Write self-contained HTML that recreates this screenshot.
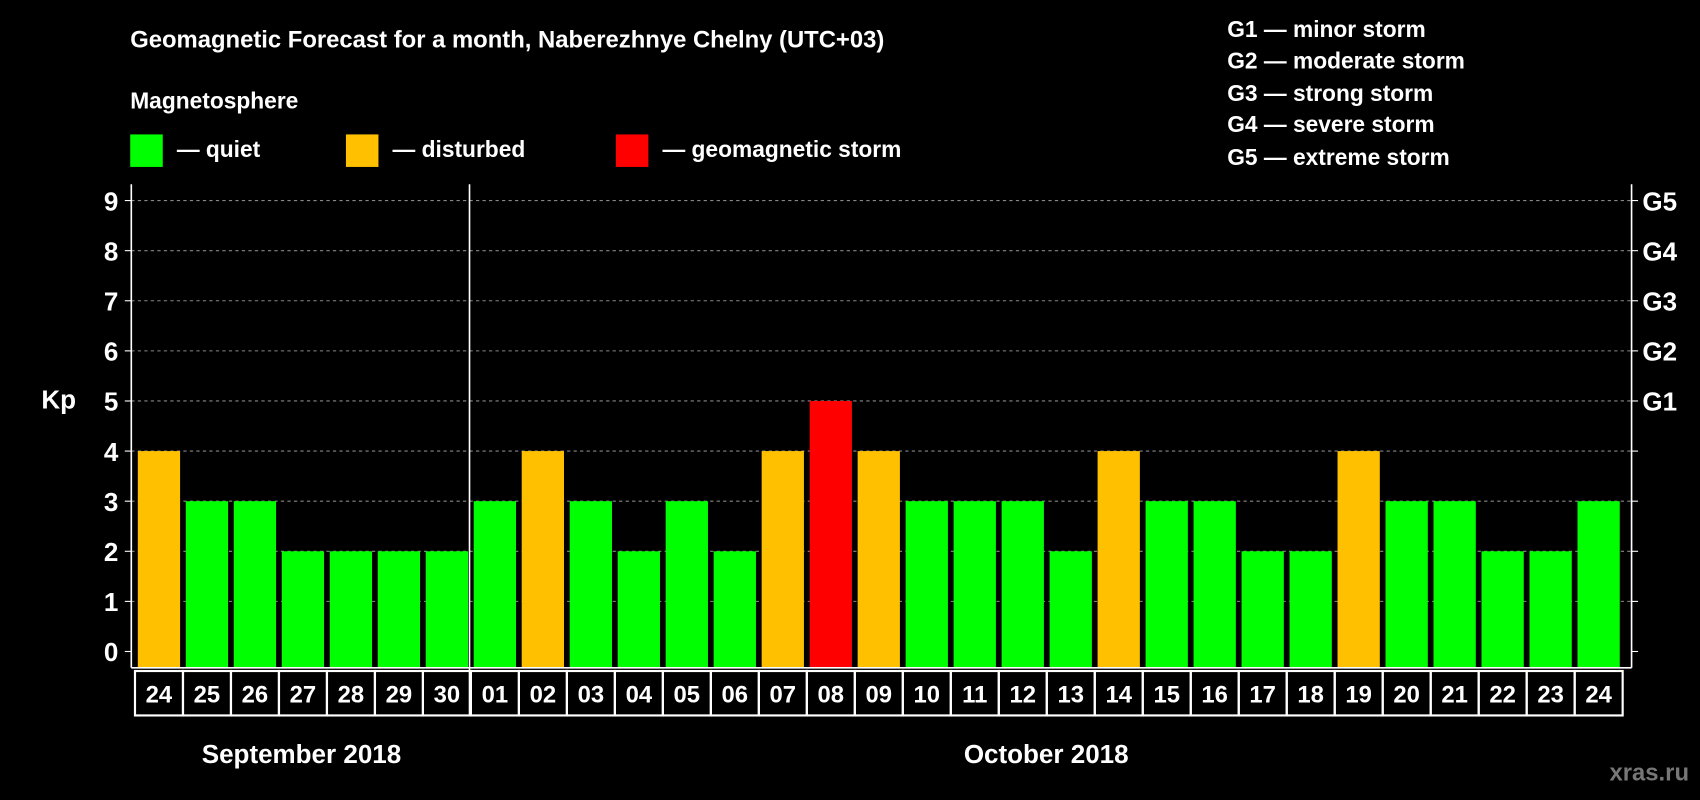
<!DOCTYPE html>
<html><head><meta charset="utf-8"><style>
html,body{margin:0;padding:0;background:#000;}
svg{display:block;font-family:"Liberation Sans",sans-serif;font-weight:bold;}
</style></head><body>
<svg id="chart" width="1700" height="800" viewBox="0 0 1568 738" xmlns="http://www.w3.org/2000/svg">
<rect width="1568" height="738" fill="#000"/>
<text x="120" y="44" fill="#fff" font-size="22">Geomagnetic Forecast for a month, Naberezhnye Chelny (UTC+03)</text>
<text x="120" y="100" fill="#fff" font-size="21">Magnetosphere</text>
<rect x="120" y="124" width="30" height="30" fill="#00ff00"/>
<text x="163" y="145" fill="#fff" font-size="21">— quiet</text>
<rect x="319" y="124" width="30" height="30" fill="#ffc000"/>
<text x="362" y="145" fill="#fff" font-size="21">— disturbed</text>
<rect x="568" y="124" width="30" height="30" fill="#ff0000"/>
<text x="611" y="145" fill="#fff" font-size="21">— geomagnetic storm</text>
<g fill="#fff" font-size="21">
<text x="1132" y="34">G1 — minor storm</text>
<text x="1132" y="63">G2 — moderate storm</text>
<text x="1132" y="93">G3 — strong storm</text>
<text x="1132" y="122">G4 — severe storm</text>
<text x="1132" y="152">G5 — extreme storm</text>
</g>
<text x="38" y="377" fill="#fff" font-size="24">Kp</text>
<g id="grid"></g><g id="bars"></g><g id="axes"></g><g id="labels"></g>
<text x="278" y="704" fill="#fff" font-size="24" text-anchor="middle">September 2018</text>
<text x="965" y="704" fill="#fff" font-size="24" text-anchor="middle">October 2018</text>
<text x="1558" y="720" fill="#777" font-size="22" text-anchor="end">xras.ru</text>
</svg>
<script>
const days = ["24","25","26","27","28","29","30","01","02","03","04","05","06","07","08","09","10","11","12","13","14","15","16","17","18","19","20","21","22","23","24"];
const kpValues = [4,3,3,2,2,2,2,3,4,3,2,3,2,4,5,4,3,3,3,2,4,3,3,2,2,4,3,3,2,2,3];
const yTicks = [0,1,2,3,4,5,6,7,8,9];
const gLabels = ["","","","","","G1","G2","G3","G4","G5"];
const NS="http://www.w3.org/2000/svg";
const L=121,R=1505,T=170,B=616,x0=127,step=44.27,bw=39;
function y(v){return 601-v*46.22;}
function xb(i){return x0+i*step;}
function mk(tag,attrs,parent){const e=document.createElementNS(NS,tag);for(const k in attrs)e.setAttribute(k,attrs[k]);document.getElementById(parent).appendChild(e);return e;}
function color(v){return v>=5?"#ff0000":v>=4?"#ffc000":"#00ff00";}
yTicks.forEach((t,i)=>{
  if(t>0){const g=mk("line",{x1:L,x2:R,y1:y(t),y2:y(t),stroke:"#888","stroke-dasharray":"3,3","stroke-width":1},"grid");
  
  }
  const tl=mk("line",{x1:L-6,x2:L,y1:y(t),y2:y(t),stroke:"#fff"},"axes");
  
  
  const tr=mk("line",{x1:R,x2:R+6,y1:y(t),y2:y(t),stroke:"#fff"},"axes");
  
  
  const lt=mk("text",{x:L-12,y:y(t)+9,fill:"#fff","font-size":24,"text-anchor":"end"},"labels");
  lt.textContent=t;
  
  
  if(gLabels[i]){const gt=mk("text",{x:R+10,y:y(t)+9,fill:"#fff","font-size":24},"labels");
  gt.textContent=gLabels[i];
  
  }
});
kpValues.forEach((v,i)=>{
  const b=mk("rect",{x:xb(i),y:y(v),width:bw,height:B-y(v),fill:color(v)},"bars");
  
  
});
days.forEach((d,i)=>{
  const c=mk("rect",{x:xb(i)-2.6,y:619,width:step,height:41,fill:"none",stroke:"#fff","stroke-width":2},"labels");
  
  
  const t=mk("text",{x:xb(i)+bw/2,y:648,fill:"#fff","font-size":22,"text-anchor":"middle"},"labels");
  t.textContent=d;
  
  
});
[[L,T,L,B],[R,T,R,B],[L,B,R,B],[433,T,433,660]].forEach(a=>{
  const l=mk("line",{x1:a[0],y1:a[1],x2:a[2],y2:a[3],stroke:"#fff","stroke-width":1.5},"axes");
  
  
});
</script>
</body></html>
